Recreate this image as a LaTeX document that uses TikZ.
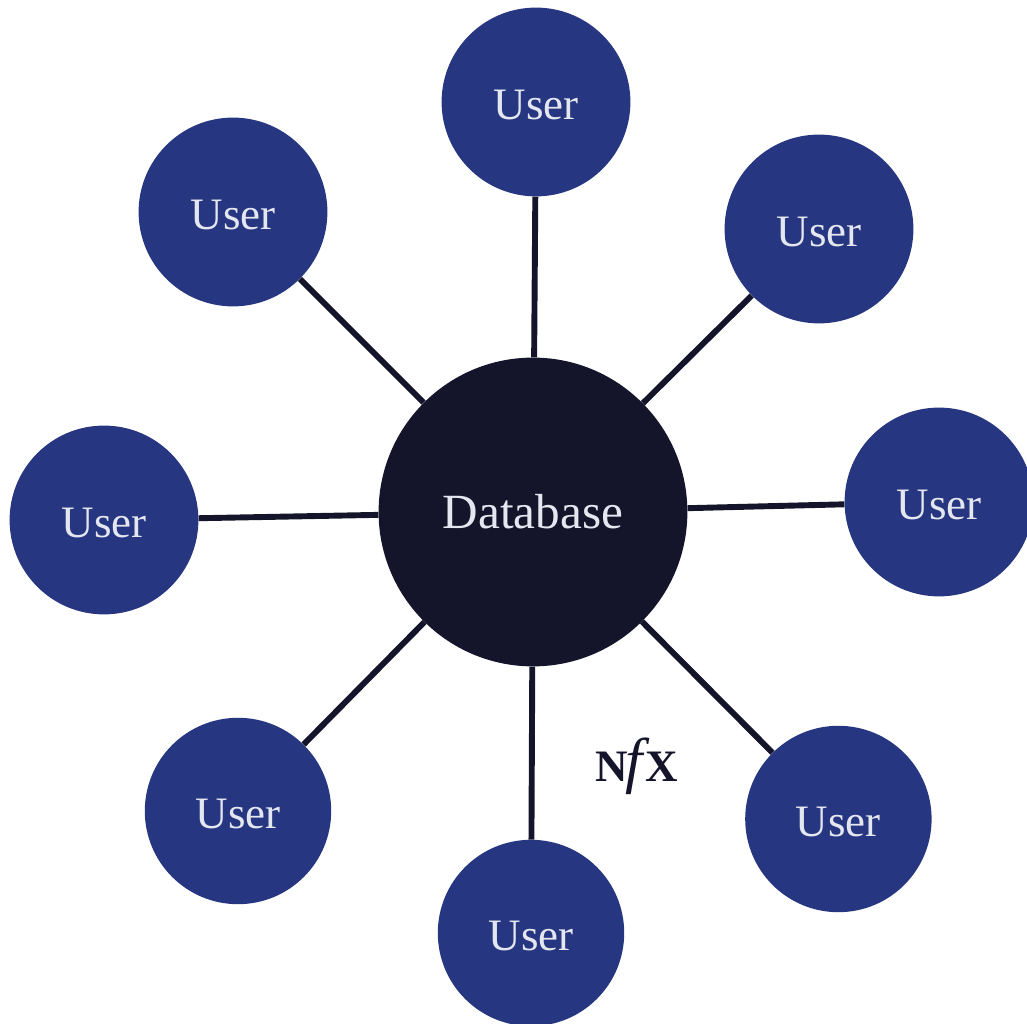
\documentclass[tikz,border=0pt]{standalone}
\usepackage{fontspec}
\setmainfont{Liberation Serif}
\usepackage{xcolor}
\usetikzlibrary{positioning}
\definecolor{userblue}{RGB}{38,54,128}
\definecolor{dbnavy}{RGB}{20,21,42}
\definecolor{labelwhite}{RGB}{228,230,240}

\begin{document}
\begin{tikzpicture}
        % Define styles
        \tikzstyle{user} = [circle, minimum size=4.72cm, inner sep=0pt, text height=25pt, text depth=0pt, fill=userblue, text=labelwhite, font=\fontsize{32}{36}\selectfont]
        \tikzstyle{database} = [circle, minimum size=7.72cm, inner sep=0pt, fill=dbnavy, text=labelwhite, font=\fontsize{35}{40}\selectfont]
        \tikzstyle{link} = [line width=4.2pt, dbnavy]

        \useasboundingbox (0, 0) rectangle (25.675, 25.6);

        % Hub
        \node[database] (db) at (13.325, 12.8) {Database};

        % Users
        \node[user] (top) at (13.4, 23.05) {User};
        \node[user] (ur) at (20.475, 19.875) {User};
        \node[user] (right) at (23.475, 13.05) {User};
        \node[user, minimum size=4.66cm] (lr) at (20.96, 5.125) {User};
        \node[user, minimum size=4.66cm] (bottom) at (13.275, 2.275) {User};
        \node[user, minimum size=4.66cm] (ll) at (5.95, 5.325) {User};
        \node[user] (left) at (2.6, 12.6) {User};
        \node[user] (ul) at (5.825, 20.3) {User};

        % Connections
        \draw[link] (db) -- (top);
        \draw[link] (db) -- (ur);
        \draw[link] (db) -- (right);
        \draw[link] (db) -- (lr);
        \draw[link] (db) -- (bottom);
        \draw[link] (db) -- (ll);
        \draw[link] (db) -- (left);
        \draw[link] (db) -- (ul);

        % Logo
        \node[dbnavy, font=\fontsize{32}{36}\selectfont\bfseries] (nfx) at (15.925, 6.45) {N\kern-2pt\textit{\mdseries\fontsize{44}{44}\selectfont f}\kern-3pt X};

    \end{tikzpicture}
\end{document}
